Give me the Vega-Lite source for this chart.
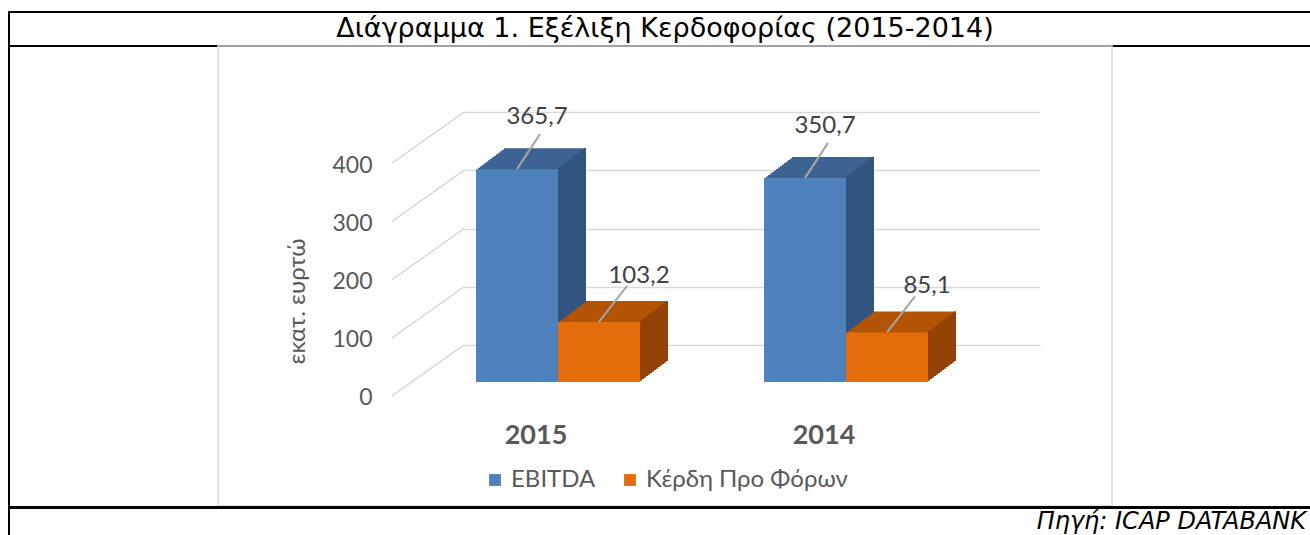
{
  "$schema": "https://vega.github.io/schema/vega-lite/v6.json",
  "padding": {"left": 7, "top": 10, "right": 0, "bottom": 0},
  "background": "white",
  "spacing": 0,
  "bounds": "flush",
  "config": {
    "view": {"stroke": null},
    "locale": {"number": {"decimal": ",", "thousands": ".", "grouping": [3], "currency": ["", " €"]}}
  },
  "hconcat": [
    {
      "data": {"values": [{}]},
      "mark": {"type": "text", "fontSize": 0},
      "encoding": {"text": {"value": ""}},
      "width": 1,
      "height": 525,
      "view": {"stroke": "black", "strokeWidth": 1}
    },
    {
      "spacing": 0,
      "bounds": "flush",
      "center": true,
      "vconcat": [
        {
          "data": {"values": [{}]},
          "mark": {"type": "text", "fontSize": 0},
          "encoding": {"text": {"value": ""}},
          "width": 1312,
          "height": 1,
          "view": {"stroke": "black", "strokeWidth": 1}
        },
        {
          "data": {"values": [{"t": "Διάγραμμα 1. Εξέλιξη Κερδοφορίας (2015-2014)"}]},
          "mark": {"type": "text", "font": "DejaVu Sans", "fontSize": 27, "color": "black", "baseline": "middle"},
          "encoding": {"text": {"field": "t"}},
          "width": 1312,
          "height": 33
        },
        {
          "data": {"values": [{}]},
          "mark": {"type": "text", "fontSize": 0},
          "encoding": {"text": {"value": ""}},
          "width": 1312,
          "height": 1,
          "view": {"stroke": "black", "strokeWidth": 1}
        },
        {
          "width": 894,
          "height": 460,
          "view": {"stroke": "#d9d9d9", "strokeWidth": 1.5},
          "data": {"values": [
            {"year": "2015", "series": "EBITDA", "value": 365.7},
            {"year": "2015", "series": "Κέρδη Προ Φόρων", "value": 103.2},
            {"year": "2014", "series": "EBITDA", "value": 350.7},
            {"year": "2014", "series": "Κέρδη Προ Φόρων", "value": 85.1}
          ]},
          "encoding": {
            "x": {
              "field": "year", "type": "nominal", "sort": ["2015", "2014"],
              "scale": {"domain": ["2015", "2014"], "range": [246, 822], "paddingInner": 0.4306, "paddingOuter": 0.2153, "align": 0.0968},
              "axis": {"orient": "bottom", "offset": -84, "domain": false, "ticks": false, "grid": false, "labelPadding": 0, "labelOffset": -22, "labelFont": "Lato", "labelFontSize": 27, "labelFontWeight": "bold", "labelColor": "#595959", "title": null, "labelAngle": 0, "labelBaseline": "top"}
            }
          },
          "layer": [
            {
              "encoding": {
                "y": {"field": "value", "type": "quantitative", "scale": {"domain": [-276.7, 513.7], "nice": false, "zero": false},
                  "axis": {"orient": "left", "values": [0, 100, 200, 300, 400], "grid": true, "gridColor": "#d9d9d9", "gridWidth": 1.5, "domain": false, "ticks": false, "offset": -156, "labelPadding": 2, "labelOffset": 53, "labelFlush": false, "labelFont": "Lato", "labelFontSize": 23, "labelColor": "#595959", "title": "εκατ. ευρτώ", "titleFont": "Lato", "titleFontSize": 24, "titleFontWeight": "normal", "titleColor": "#595959", "titlePadding": 22, "titleY": 255}}
              },
              "layer": [
                {"mark": {"type": "point", "opacity": 0}},
                {
                  "data": {"values": [{"value": 0}, {"value": 100}, {"value": 200}, {"value": 300}, {"value": 400}]},
                  "mark": {"type": "rule", "color": "#d9d9d9", "strokeWidth": 1.5, "xOffset": -94, "x2Offset": -166, "y2Offset": 51},
                  "encoding": {"x": {"datum": "2015"}, "x2": {"datum": "2015"}, "y2": {"field": "value"}}
                }
              ]
            },
            {
              "transform": [{"filter": "datum.series === 'EBITDA'"}],
              "encoding": {"y": {"field": "value", "type": "quantitative", "scale": {"domain": [-213.1, 577.3], "nice": false, "zero": false}, "axis": null}},
              "layer": [
                {
                  "encoding": {"y2": {"datum": 0}},
                  "layer": [
                    {"mark": {"type": "bar", "width": 82, "xOffset": -13, "yOffset": -21, "y2Offset": -21, "color": "#3d6393"}},
                    {"mark": {"type": "bar", "width": 2, "xOffset": 27, "yOffset": -21, "y2Offset": -21, "color": "#33547f"}},
                    {"mark": {"type": "bar", "width": 82, "xOffset": -15, "yOffset": -19.5, "y2Offset": -19.5, "color": "#3d6393"}},
                    {"mark": {"type": "bar", "width": 2, "xOffset": 25, "yOffset": -19.5, "y2Offset": -19.5, "color": "#33547f"}},
                    {"mark": {"type": "bar", "width": 82, "xOffset": -17, "yOffset": -18, "y2Offset": -18, "color": "#3d6393"}},
                    {"mark": {"type": "bar", "width": 2, "xOffset": 23, "yOffset": -18, "y2Offset": -18, "color": "#33547f"}},
                    {"mark": {"type": "bar", "width": 82, "xOffset": -19, "yOffset": -16.5, "y2Offset": -16.5, "color": "#3d6393"}},
                    {"mark": {"type": "bar", "width": 2, "xOffset": 21, "yOffset": -16.5, "y2Offset": -16.5, "color": "#33547f"}},
                    {"mark": {"type": "bar", "width": 82, "xOffset": -21, "yOffset": -15, "y2Offset": -15, "color": "#3d6393"}},
                    {"mark": {"type": "bar", "width": 2, "xOffset": 19, "yOffset": -15, "y2Offset": -15, "color": "#33547f"}},
                    {"mark": {"type": "bar", "width": 82, "xOffset": -23, "yOffset": -13.5, "y2Offset": -13.5, "color": "#3d6393"}},
                    {"mark": {"type": "bar", "width": 2, "xOffset": 17, "yOffset": -13.5, "y2Offset": -13.5, "color": "#33547f"}},
                    {"mark": {"type": "bar", "width": 82, "xOffset": -25, "yOffset": -12, "y2Offset": -12, "color": "#3d6393"}},
                    {"mark": {"type": "bar", "width": 2, "xOffset": 15, "yOffset": -12, "y2Offset": -12, "color": "#33547f"}},
                    {"mark": {"type": "bar", "width": 82, "xOffset": -27, "yOffset": -10.5, "y2Offset": -10.5, "color": "#3d6393"}},
                    {"mark": {"type": "bar", "width": 2, "xOffset": 13, "yOffset": -10.5, "y2Offset": -10.5, "color": "#33547f"}},
                    {"mark": {"type": "bar", "width": 82, "xOffset": -29, "yOffset": -9, "y2Offset": -9, "color": "#3d6393"}},
                    {"mark": {"type": "bar", "width": 2, "xOffset": 11, "yOffset": -9, "y2Offset": -9, "color": "#33547f"}},
                    {"mark": {"type": "bar", "width": 82, "xOffset": -31, "yOffset": -7.5, "y2Offset": -7.5, "color": "#3d6393"}},
                    {"mark": {"type": "bar", "width": 2, "xOffset": 9, "yOffset": -7.5, "y2Offset": -7.5, "color": "#33547f"}},
                    {"mark": {"type": "bar", "width": 82, "xOffset": -33, "yOffset": -6, "y2Offset": -6, "color": "#3d6393"}},
                    {"mark": {"type": "bar", "width": 2, "xOffset": 7, "yOffset": -6, "y2Offset": -6, "color": "#33547f"}},
                    {"mark": {"type": "bar", "width": 82, "xOffset": -35, "yOffset": -4.5, "y2Offset": -4.5, "color": "#3d6393"}},
                    {"mark": {"type": "bar", "width": 2, "xOffset": 5, "yOffset": -4.5, "y2Offset": -4.5, "color": "#33547f"}},
                    {"mark": {"type": "bar", "width": 82, "xOffset": -37, "yOffset": -3, "y2Offset": -3, "color": "#3d6393"}},
                    {"mark": {"type": "bar", "width": 2, "xOffset": 3, "yOffset": -3, "y2Offset": -3, "color": "#33547f"}},
                    {"mark": {"type": "bar", "width": 82, "xOffset": -39, "yOffset": -1.5, "y2Offset": -1.5, "color": "#3d6393"}},
                    {"mark": {"type": "bar", "width": 2, "xOffset": 1, "yOffset": -1.5, "y2Offset": -1.5, "color": "#33547f"}},
                    {
                      "mark": {"type": "bar", "width": 82, "xOffset": -41},
                      "encoding": {"color": {"field": "series", "type": "nominal", "sort": ["EBITDA", "Κέρδη Προ Φόρων"], "scale": {"domain": ["EBITDA", "Κέρδη Προ Φόρων"], "range": ["#4f81bd", "#e46c0a"]},
                        "legend": {"orient": "none", "legendX": 475, "legendY": 457, "direction": "horizontal", "title": null, "padding": 0, "symbolType": "square", "symbolSize": 140, "symbolStrokeWidth": 0, "labelFont": "Lato", "labelFontSize": 24, "labelColor": "#595959", "labelLimit": 400, "columnPadding": 22, "labelOffset": 4}}}
                    }
                  ]
                },
                {
                  "mark": {"type": "rule", "color": "#a6a6a6", "strokeWidth": 2, "xOffset": -41, "x2Offset": -18, "y2Offset": -35},
                  "encoding": {"x2": {"field": "year"}, "y2": {"field": "value"}}
                },
                {
                  "mark": {"type": "text", "xOffset": -41, "dx": 20, "dy": -52, "font": "Lato", "fontSize": 24, "color": "#404040", "baseline": "middle"},
                  "encoding": {"text": {"field": "value", "type": "quantitative", "format": ".1f"}}
                }
              ]
            },
            {
              "transform": [{"filter": "datum.series !== 'EBITDA'"}],
              "encoding": {"y": {"field": "value", "type": "quantitative", "scale": {"domain": [-213.1, 577.3], "nice": false, "zero": false}, "axis": null}},
              "layer": [
                {
                  "encoding": {"y2": {"datum": 0}},
                  "layer": [
                    {"mark": {"type": "bar", "width": 82, "xOffset": 69, "yOffset": -21, "y2Offset": -21, "color": "#b25404"}},
                    {"mark": {"type": "bar", "width": 2, "xOffset": 109, "yOffset": -21, "y2Offset": -21, "color": "#944206"}},
                    {"mark": {"type": "bar", "width": 82, "xOffset": 67, "yOffset": -19.5, "y2Offset": -19.5, "color": "#b25404"}},
                    {"mark": {"type": "bar", "width": 2, "xOffset": 107, "yOffset": -19.5, "y2Offset": -19.5, "color": "#944206"}},
                    {"mark": {"type": "bar", "width": 82, "xOffset": 65, "yOffset": -18, "y2Offset": -18, "color": "#b25404"}},
                    {"mark": {"type": "bar", "width": 2, "xOffset": 105, "yOffset": -18, "y2Offset": -18, "color": "#944206"}},
                    {"mark": {"type": "bar", "width": 82, "xOffset": 63, "yOffset": -16.5, "y2Offset": -16.5, "color": "#b25404"}},
                    {"mark": {"type": "bar", "width": 2, "xOffset": 103, "yOffset": -16.5, "y2Offset": -16.5, "color": "#944206"}},
                    {"mark": {"type": "bar", "width": 82, "xOffset": 61, "yOffset": -15, "y2Offset": -15, "color": "#b25404"}},
                    {"mark": {"type": "bar", "width": 2, "xOffset": 101, "yOffset": -15, "y2Offset": -15, "color": "#944206"}},
                    {"mark": {"type": "bar", "width": 82, "xOffset": 59, "yOffset": -13.5, "y2Offset": -13.5, "color": "#b25404"}},
                    {"mark": {"type": "bar", "width": 2, "xOffset": 99, "yOffset": -13.5, "y2Offset": -13.5, "color": "#944206"}},
                    {"mark": {"type": "bar", "width": 82, "xOffset": 57, "yOffset": -12, "y2Offset": -12, "color": "#b25404"}},
                    {"mark": {"type": "bar", "width": 2, "xOffset": 97, "yOffset": -12, "y2Offset": -12, "color": "#944206"}},
                    {"mark": {"type": "bar", "width": 82, "xOffset": 55, "yOffset": -10.5, "y2Offset": -10.5, "color": "#b25404"}},
                    {"mark": {"type": "bar", "width": 2, "xOffset": 95, "yOffset": -10.5, "y2Offset": -10.5, "color": "#944206"}},
                    {"mark": {"type": "bar", "width": 82, "xOffset": 53, "yOffset": -9, "y2Offset": -9, "color": "#b25404"}},
                    {"mark": {"type": "bar", "width": 2, "xOffset": 93, "yOffset": -9, "y2Offset": -9, "color": "#944206"}},
                    {"mark": {"type": "bar", "width": 82, "xOffset": 51, "yOffset": -7.5, "y2Offset": -7.5, "color": "#b25404"}},
                    {"mark": {"type": "bar", "width": 2, "xOffset": 91, "yOffset": -7.5, "y2Offset": -7.5, "color": "#944206"}},
                    {"mark": {"type": "bar", "width": 82, "xOffset": 49, "yOffset": -6, "y2Offset": -6, "color": "#b25404"}},
                    {"mark": {"type": "bar", "width": 2, "xOffset": 89, "yOffset": -6, "y2Offset": -6, "color": "#944206"}},
                    {"mark": {"type": "bar", "width": 82, "xOffset": 47, "yOffset": -4.5, "y2Offset": -4.5, "color": "#b25404"}},
                    {"mark": {"type": "bar", "width": 2, "xOffset": 87, "yOffset": -4.5, "y2Offset": -4.5, "color": "#944206"}},
                    {"mark": {"type": "bar", "width": 82, "xOffset": 45, "yOffset": -3, "y2Offset": -3, "color": "#b25404"}},
                    {"mark": {"type": "bar", "width": 2, "xOffset": 85, "yOffset": -3, "y2Offset": -3, "color": "#944206"}},
                    {"mark": {"type": "bar", "width": 82, "xOffset": 43, "yOffset": -1.5, "y2Offset": -1.5, "color": "#b25404"}},
                    {"mark": {"type": "bar", "width": 2, "xOffset": 83, "yOffset": -1.5, "y2Offset": -1.5, "color": "#944206"}},
                    {
                      "mark": {"type": "bar", "width": 82, "xOffset": 41},
                      "encoding": {"color": {"field": "series", "type": "nominal", "sort": ["EBITDA", "Κέρδη Προ Φόρων"], "scale": {"domain": ["EBITDA", "Κέρδη Προ Φόρων"], "range": ["#4f81bd", "#e46c0a"]}}}
                    }
                  ]
                },
                {
                  "mark": {"type": "rule", "color": "#a6a6a6", "strokeWidth": 2, "xOffset": 41, "x2Offset": 69, "y2Offset": -36},
                  "encoding": {"x2": {"field": "year"}, "y2": {"field": "value"}}
                },
                {
                  "mark": {"type": "text", "xOffset": 41, "dx": 40, "dy": -46, "font": "Lato", "fontSize": 24, "color": "#404040", "baseline": "middle"},
                  "encoding": {"text": {"field": "value", "type": "quantitative", "format": ".1f"}}
                }
              ]
            }
          ],
          "resolve": {"scale": {"y": "independent"}, "axis": {"y": "independent"}}
        },
        {
          "data": {"values": [{}]},
          "mark": {"type": "text", "fontSize": 0},
          "encoding": {"text": {"value": ""}},
          "width": 1312,
          "height": 2,
          "view": {"stroke": "black", "strokeWidth": 1, "fill": "black"}
        },
        {
          "data": {"values": [{"t": "Πηγή: ICAP DATABANK"}]},
          "mark": {"type": "text", "font": "DejaVu Sans", "fontStyle": "italic", "fontSize": 24, "align": "right", "baseline": "middle", "color": "black", "dx": -15},
          "encoding": {"text": {"field": "t"}, "x": {"value": "width"}},
          "width": 1312,
          "height": 28
        }
      ]
    }
  ]
}
